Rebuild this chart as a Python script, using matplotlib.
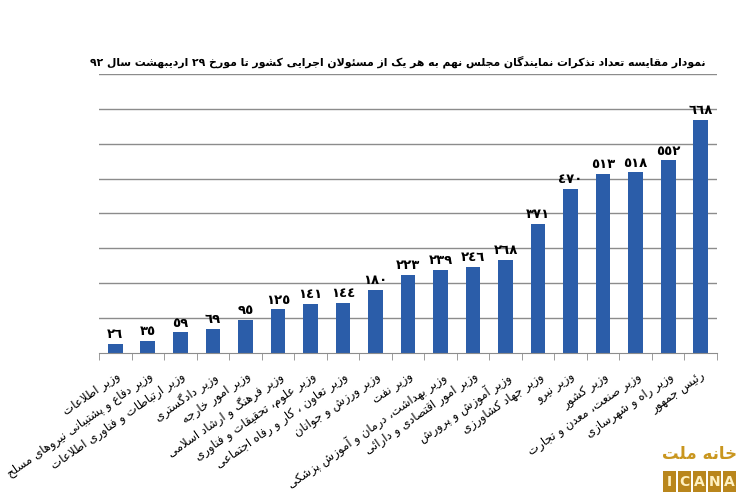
import matplotlib
matplotlib.use("Agg")
import matplotlib.pyplot as plt
from matplotlib.patches import Rectangle
import numpy as np

# data: number of MPs' warnings per official (9th parliament, up to 29 Ordibehesht 92)
title = "نمودار مقایسه تعداد تذکرات نمایندگان مجلس نهم به هر یک از مسئولان اجرایی کشور تا مورخ ۲۹ اردیبهشت سال ۹۲"
categories = [
    "وزیر اطلاعات",
    "وزیر دفاع و پشتیبانی نیروهای مسلح",
    "وزیر ارتباطات و فناوری اطلاعات",
    "وزیر دادگستری",
    "وزیر امور خارجه",
    "وزیر فرهنگ و ارشاد اسلامی",
    "وزیر علوم، تحقیقات و فناوری",
    "وزیر تعاون ، کار و رفاه اجتماعی",
    "وزیر ورزش و جوانان",
    "وزیر نفت",
    "وزیر بهداشت، درمان و آموزش پزشکی",
    "وزیر امور اقتصادی و دارائی",
    "وزیر آموزش و پرورش",
    "وزیر جهاد کشاورزی",
    "وزیر نیرو",
    "وزیر کشور",
    "وزیر صنعت، معدن و تجارت",
    "وزیر راه و شهرسازی",
    "رئیس جمهور",
]
values = [26, 35, 59, 69, 95, 125, 141, 144, 180, 223, 239, 246, 268, 371, 470, 513, 518, 552, 668]
gridlines = [100, 200, 300, 400, 500, 600, 700, 800]

# --- minimal arabic shaping + rtl ordering (matplotlib has no text shaping) ---
DUAL = {'ئ': 0xFE89, 'ب': 0xFE8F, 'ت': 0xFE95, 'ث': 0xFE99, 'ج': 0xFE9D, 'ح': 0xFEA1,
        'خ': 0xFEA5, 'س': 0xFEB1, 'ش': 0xFEB5, 'ص': 0xFEB9, 'ض': 0xFEBD, 'ط': 0xFEC1,
        'ظ': 0xFEC5, 'ع': 0xFEC9, 'غ': 0xFECD, 'ف': 0xFED1, 'ق': 0xFED5, 'ك': 0xFED9,
        'ل': 0xFEDD, 'م': 0xFEE1, 'ن': 0xFEE5, 'ه': 0xFEE9, 'ي': 0xFEF1,
        'پ': 0xFB56, 'چ': 0xFB7A, 'ک': 0xFB8E, 'گ': 0xFB92, 'ی': 0xFBFC}
RIGHT = {'آ': 0xFE81, 'أ': 0xFE83, 'ؤ': 0xFE85, 'إ': 0xFE87, 'ا': 0xFE8D, 'ة': 0xFE93,
         'د': 0xFEA9, 'ذ': 0xFEAB, 'ر': 0xFEAD, 'ز': 0xFEAF, 'و': 0xFEED, 'ى': 0xFEEF,
         'ژ': 0xFB8A}
LAM_ALEF = {'آ': 0xFEF5, 'أ': 0xFEF7, 'إ': 0xFEF9, 'ا': 0xFEFB}
DIGITS = str.maketrans("0123456789۰۱۲۳۴۵۶۷۸۹", "٠١٢٣٤٥٦٧٨٩٠١٢٣٤٥٦٧٨٩")


def shape(s):
    s = s.translate(DIGITS)
    out = []
    i = 0
    while i < len(s):
        c = s[i]
        prev = s[i - 1] if i > 0 else ''
        link_prev = prev in DUAL and (c in DUAL or c in RIGHT)
        if c == 'ل' and i + 1 < len(s) and s[i + 1] in LAM_ALEF:
            base = LAM_ALEF[s[i + 1]]
            out.append(chr(base + 1 if link_prev else base))
            i += 2
            continue
        nxt = s[i + 1] if i + 1 < len(s) else ''
        link_next = c in DUAL and (nxt in DUAL or nxt in RIGHT)
        if c in DUAL:
            off = 3 if (link_prev and link_next) else 1 if link_prev else 2 if link_next else 0
            out.append(chr(DUAL[c] + off))
        elif c in RIGHT:
            out.append(chr(RIGHT[c] + (1 if link_prev else 0)))
        else:
            out.append(c)
        i += 1
    # visual order: reverse, keep digit runs left-to-right
    runs, cur, cur_dig = [], '', None
    for ch in out:
        d = ch.isdigit()
        if cur and d != cur_dig:
            runs.append((cur, cur_dig))
            cur = ''
        cur += ch
        cur_dig = d
    if cur:
        runs.append((cur, cur_dig))
    return ''.join(r if d else r[::-1] for r, d in reversed(runs))


plt.rcParams['font.family'] = ['DejaVu Sans']

fig = plt.figure(figsize=(7.5, 5), dpi=100)
ax = fig.add_axes([0.132, 0.294, 0.824, 0.558])

x = np.arange(len(values))
ax.bar(x, values, width=0.45, color='#2B5DA9', zorder=3)

for xi, v in zip(x, values):
    ax.text(xi, v + 8, shape(str(v)), ha='center', va='bottom',
            fontsize=9.5, fontweight='bold', color='black')

ax.set_ylim(0, 800)
ax.set_xlim(-0.5, len(values) - 0.5)
for g in gridlines:
    ax.axhline(g, color='#8C8C8C', linewidth=1.0, zorder=1)

for sp in ['top', 'left', 'right']:
    ax.spines[sp].set_visible(False)
ax.spines['bottom'].set_color('#8C8C8C')
ax.spines['bottom'].set_zorder(4)
ax.set_yticks([])

ax.set_xticks(x)
ax.set_xticklabels([shape(c) for c in categories], rotation=35, ha='right',
                   rotation_mode='anchor', fontsize=8.5)
ax.tick_params(axis='x', which='major', length=0, pad=12)
ax.set_xticks(np.arange(-0.5, len(values), 1.0), minor=True)
ax.tick_params(axis='x', which='minor', length=5, color='#8C8C8C', direction='out')

fig.text(0.53, 0.876, shape(title), ha='center', va='center',
         fontsize=7.8, fontweight='bold')

# ICANA logo
fig.text(0.932, 0.092, shape("خانه ملت"), ha='center', va='center',
         fontsize=12, fontweight='bold', color='#C9961F')
for k, ch in enumerate("ICANA"):
    x0 = (663 + k * 15) / 750
    fig.patches.append(Rectangle((x0, 0.016), 13 / 750, 0.042, transform=fig.transFigure,
                                 facecolor='#B9861C', edgecolor='none'))
    fig.text(x0 + 6.5 / 750, 0.037, ch, ha='center', va='center',
             fontsize=10, fontweight='bold', color='#FFF1C2')

fig.savefig("out.png", dpi=100)
